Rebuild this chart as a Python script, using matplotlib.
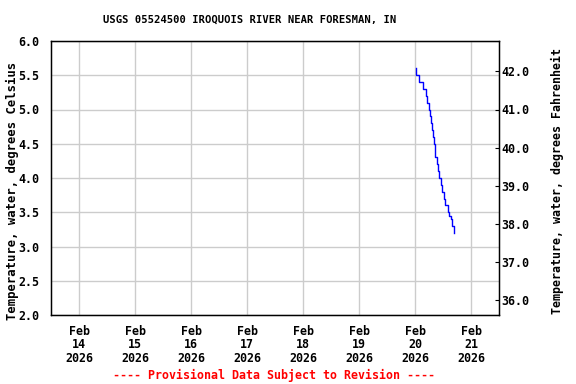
import numpy as np
import matplotlib
matplotlib.use("Agg")
import matplotlib.pyplot as plt
import matplotlib.dates as mdates
from datetime import datetime, timedelta

# readings on Feb 20 2026 (time of day, degrees C)
times = ["00:15", "00:30", "01:30", "03:30", "04:45", "05:15", "06:00", "06:30",
         "06:45", "07:15", "07:45", "08:00", "08:30", "08:45", "09:15", "09:45",
         "10:15", "11:00", "11:45", "12:15", "13:00", "14:00", "14:45", "15:15",
         "15:45", "16:00", "16:30", "16:45"]
temps_c = [5.6, 5.5, 5.4, 5.3, 5.2, 5.1, 5.0, 4.9,
           4.8, 4.7, 4.6, 4.5, 4.4, 4.3, 4.2, 4.1,
           4.0, 3.9, 3.8, 3.7, 3.6, 3.5, 3.45, 3.4,
           3.35, 3.3, 3.2, 3.2]
day_ticks = [datetime(2026, 2, d) for d in range(14, 22)]
c_ticks = [2.0, 2.5, 3.0, 3.5, 4.0, 4.5, 5.0, 5.5, 6.0]
f_ticks = [36.0, 37.0, 38.0, 39.0, 40.0, 41.0, 42.0]

x = [datetime.strptime("2026-02-20 " + t, "%Y-%m-%d %H:%M") for t in times]

font = "DejaVu Sans Mono"
fig = plt.figure(figsize=(5.76, 3.84), dpi=100)
ax = fig.add_axes([51 / 576, 1 - 315 / 384, 448 / 576, 274 / 384])

ax.plot(x, temps_c, color="#0000ff", lw=1.0, drawstyle="steps-post")

ax.set_xlim(datetime(2026, 2, 13, 12), datetime(2026, 2, 21, 12))
ax.set_ylim(2.0, 6.0)
ax.set_xticks(day_ticks)
ax.set_xticklabels([d.strftime("%b\n%d\n%Y") for d in day_ticks],
                   family=font, weight="bold", fontsize=8.4, linespacing=1.05)
ax.set_yticks(c_ticks)
ax.set_yticklabels(["%.1f" % v for v in c_ticks], family=font, weight="bold", fontsize=8.4)
ax.tick_params(axis="y", length=0, pad=8.5)
ax.tick_params(axis="x", length=0, pad=7)
ax.grid(True, color="#cccccc", lw=1)
for s in ax.spines.values():
    s.set_linewidth(1)

ax2 = ax.twinx()
ax2.set_ylim(2.0 * 9 / 5 + 32, 6.0 * 9 / 5 + 32)
ax2.set_yticks(f_ticks)
ax2.set_yticklabels(["%.1f" % v for v in f_ticks], family=font, weight="bold", fontsize=8.4)
ax2.tick_params(axis="y", direction="in", length=3, pad=2)

fig.text(250 / 576, 1 - 20 / 384, "USGS 05524500 IROQUOIS RIVER NEAR FORESMAN, IN",
         ha="center", va="center", family=font, weight="bold", fontsize=7.6)
fig.text(12 / 576, 1 - 191 / 384, "Temperature, water, degrees Celsius", rotation=90,
         ha="center", va="center", family=font, weight="bold", fontsize=8.8)
fig.text(557 / 576, 1 - 181 / 384, "Temperature, water, degrees Fahrenheit", rotation=90,
         ha="center", va="center", family=font, weight="bold", fontsize=8.4)
fig.text(274 / 576, 1 - 375 / 384, "---- Provisional Data Subject to Revision ----",
         ha="center", va="center", family=font, weight="bold", fontsize=8.4, color="red")

fig.savefig("out.png", dpi=100)
